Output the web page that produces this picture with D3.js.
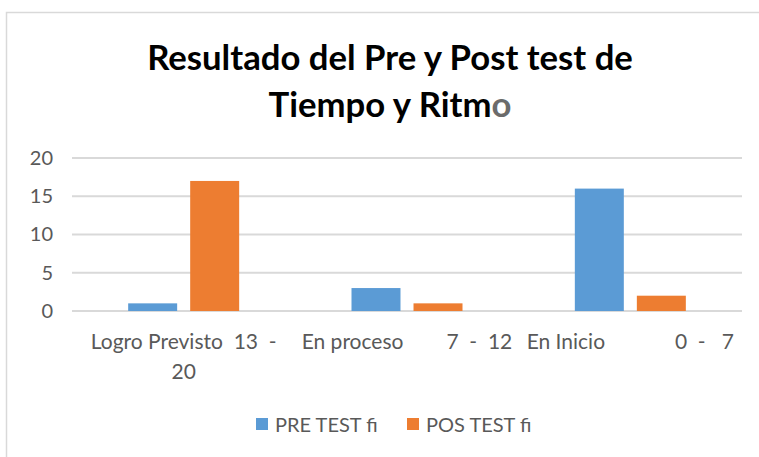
<!DOCTYPE html>
<html>
<head>
<meta charset="utf-8">
<script src="https://cdn.jsdelivr.net/npm/d3@7"></script>
<style>
  body { margin: 0; background: #fff; }
  text { font-family: Lato, "Open Sans", sans-serif; }
</style>
</head>
<body>
<div id="chart"></div>
<script>
// chart data
const categories = ["Logro Previsto", "En proceso", "En Inicio"];
const categoryLines = [["Logro Previsto  13  -", "20"], ["En proceso        7  -  12"], ["En Inicio             0  -   7"]];
const seriesNames = ["PRE TEST fi", "POS TEST fi"];
const preTest = [1, 3, 16];
const posTest = [17, 1, 2];
const yTicks = [0, 5, 10, 15, 20];
const colors = ["#5B9BD5", "#ED7D31"];

var width = 759, height = 457;
const svg = d3.select("#chart").append("svg")
  .attr("width", width)
  .attr("height", height);

// chart frame
svg.append("rect")
  .attr("x", 6.5).attr("y", 12.5)
  .attr("width", 800).attr("height", 500)
  .attr("fill", "#fff")
  .attr("stroke", "#d9d9d9")
  .attr("stroke-width", 1.5);

// title
const title = svg.append("text")
  .attr("text-anchor", "middle")
  .attr("font-weight", "bold")
  .attr("fill", "#000");
const t1 = title.append("tspan").attr("x", 390).attr("y", 70).text("Resultado del Pre y Post test de");
const t2 = title.append("tspan").attr("x", 390).attr("y", 117);
t2.append("tspan").text("Tiempo y Ritm");
t2.append("tspan").attr("fill", "#6b6b6b").text("o");
// fit first line to about 486px wide
title.attr("font-size", 30);
var w = t1.node().getComputedTextLength();
title.attr("font-size", 30 * 486 / w);

const x0 = d3.scaleBand().domain(categories).range([72, 742]);
const bw = x0.bandwidth();
const x1 = d3.scaleBand().domain(seriesNames)
  .range([(bw - 111) / 2, (bw + 111) / 2])
  .paddingInner(0.21);
const y = d3.scaleLinear().domain([0, 20]).range([311, 158]);

// gridlines
svg.append("g")
  .selectAll("line")
  .data(yTicks)
  .join("line")
  .attr("x1", 72).attr("x2", 742)
  .attr("y1", d => y(d)).attr("y2", d => y(d))
  .attr("stroke", "#d9d9d9")
  .attr("stroke-width", 2);

// y axis labels
const yAxis = d3.axisLeft(y).tickValues(yTicks).tickSize(0).tickPadding(0);
const ya = svg.append("g")
  .attr("transform", "translate(53,0)")
  .call(yAxis);
ya.select(".domain").remove();
ya.selectAll("text")
  .attr("font-family", "Lato, sans-serif")
  .attr("font-size", 20)
  .attr("fill", "#595959");

// bars
const rows = categories.map((c, i) => ({ cat: c, vals: [preTest[i], posTest[i]] }));
svg.append("g")
  .selectAll("g")
  .data(rows)
  .join("g")
  .attr("transform", d => "translate(" + x0(d.cat) + ",0)")
  .selectAll("rect")
  .data(d => d.vals.map((v, j) => ({ s: seriesNames[j], v: v, j: j })))
  .join("rect")
  .attr("x", d => x1(d.s))
  .attr("width", x1.bandwidth())
  .attr("y", d => y(d.v))
  .attr("height", d => y(0) - y(d.v))
  .attr("fill", d => colors[d.j]);

// x axis labels
const xl = svg.append("g");
categories.forEach((c, i) => {
  const t = xl.append("text")
    .attr("text-anchor", "middle")
    .attr("font-size", 21)
    .attr("fill", "#595959")
    .style("white-space", "pre");
  categoryLines[i].forEach((line, k) => {
    t.append("tspan")
      .attr("x", x0(c) + bw / 2)
      .attr("y", 349 + k * 30)
      .text(line);
  });
});

// legend
const lg = svg.append("g");
const legX = [256, 407];
seriesNames.forEach((s, i) => {
  lg.append("rect")
    .attr("x", legX[i]).attr("y", 418)
    .attr("width", 12).attr("height", 12)
    .attr("fill", colors[i]);
  lg.append("text")
    .attr("x", legX[i] + 19).attr("y", 432)
    .attr("font-size", 20)
    .attr("fill", "#595959")
    .text(s);
});
</script>
</body>
</html>
